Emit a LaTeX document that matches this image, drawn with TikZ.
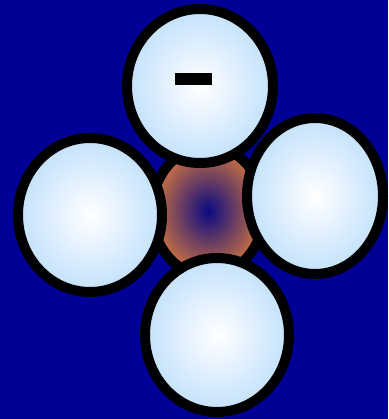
\documentclass[tikz,border=0pt]{standalone}
\usepackage{xcolor}
\usepackage{tikz}
\usetikzlibrary{shapes.geometric, positioning}
\definecolor{seablue}{RGB}{0,0,150}
\definecolor{corecore}{RGB}{10,10,130}
\definecolor{coreedge}{RGB}{205,115,65}
\definecolor{ballrim}{RGB}{195,225,252}

\tikzset{
  ball/.style={ellipse, draw=black, line width=10pt, inner sep=0pt,
               inner color=white, outer color=ballrim},
  core/.style={ellipse, draw=black, line width=10pt, inner sep=0pt,
               inner color=corecore, outer color=coreedge,
               minimum width=112pt, minimum height=130pt}
}

\begin{document}
\begin{tikzpicture}[x=1pt, y=-1pt]
  %% background (pixel grid, y downwards)
  \fill[seablue] (0,0) rectangle (388,419);
  \useasboundingbox (0,0) rectangle (388,419);

  %% central small ellipse, drawn first so the big ones overlap it
  \node[core] (centre) at (208,211) {};

  %% four big ellipses round the centre
  \node[ball, minimum width=146pt, minimum height=154pt] (top)    at (200,86)  {};
  \node[ball, minimum width=144pt, minimum height=154pt] (left)   at (90,215)  {};
  \node[ball, minimum width=136pt, minimum height=156pt] (right)  at (315,196) {};
  \node[ball, minimum width=144pt, minimum height=154pt] (bottom) at (217,335) {};

  %% minus sign on the top ellipse
  \node[fill=black, inner sep=0pt, minimum width=37pt, minimum height=12pt]
    (minus) at (193.5,79) {};

\end{tikzpicture}
\end{document}
